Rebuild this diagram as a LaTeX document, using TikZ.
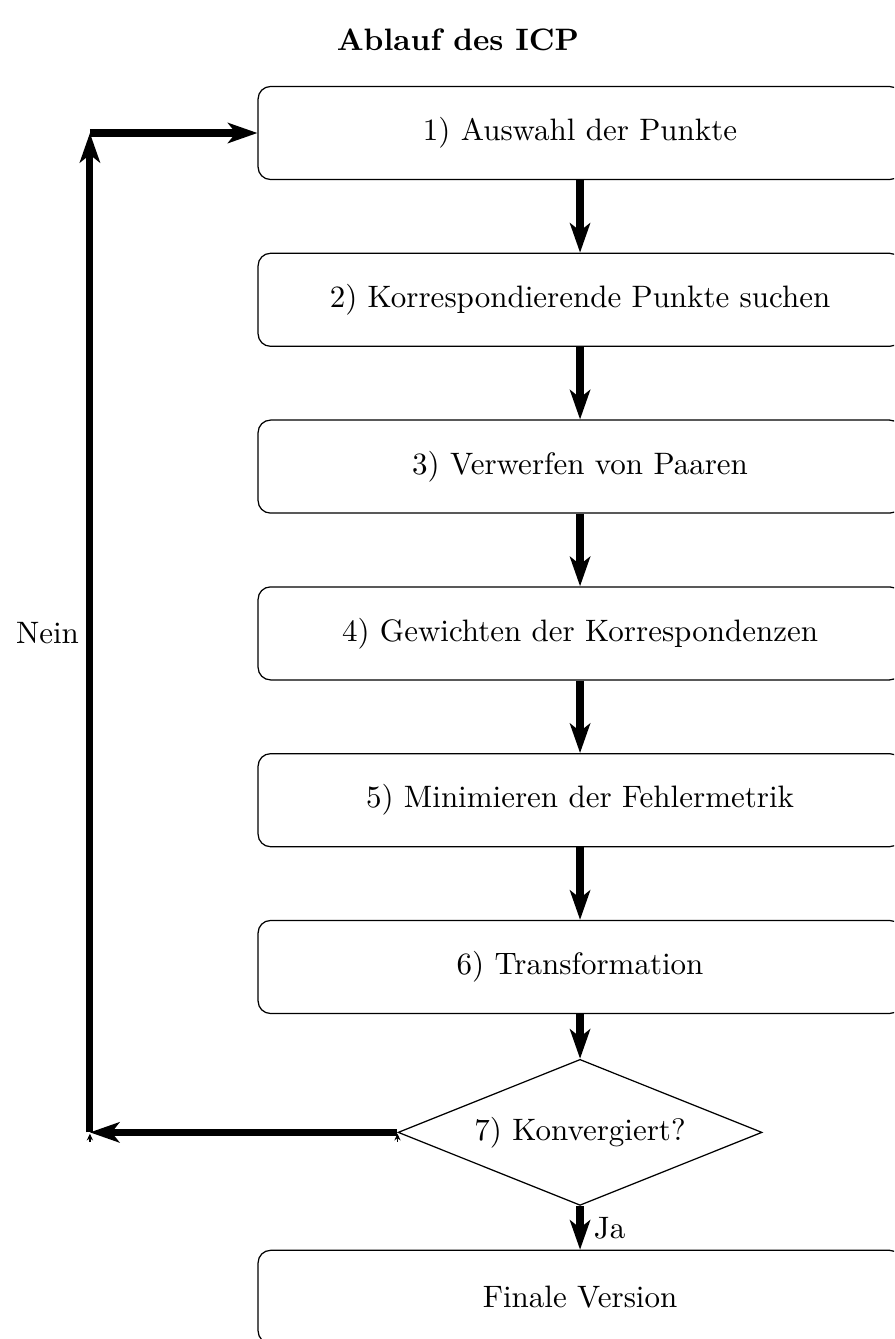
\documentclass[tikz,border=0pt]{standalone}
\usepackage{amsmath}
\usepackage{tikz}
\usetikzlibrary{arrows.meta,shapes.geometric,positioning}

\begin{document}
\begin{tikzpicture}[x=1pt, y=1pt,
  flow/.style={-{Stealth[length=9.5pt, width=6.5pt, inset=2.5pt]}, line width=2.3pt},
  tick/.style={-{Stealth[length=2.2pt, width=2pt]}, thin},
  stepbox/.style={draw, rounded corners=4pt, minimum width=207.7pt, minimum height=30pt},
  check/.style={draw, diamond, aspect=2.5, minimum width=117.4pt, minimum height=47.1pt, inner sep=0pt},
  node distance=23.4pt]
\useasboundingbox[clip] (0,0) rectangle (288.4,-431.9);
\node[font=\bfseries] (title) at (147.7,-12.9) {Ablauf des ICP};
\node[stepbox] (S1) at (187.1,-42.9) {1) Auswahl der Punkte};
\node[stepbox, below=of S1] (S2) {2) Korrespondierende Punkte suchen};
\node[stepbox, below=of S2] (S3) {3) Verwerfen von Paaren};
\node[stepbox, below=of S3] (S4) {4) Gewichten der Korrespondenzen};
\node[stepbox, below=of S4] (S5) {5) Minimieren der Fehlermetrik};
\node[stepbox, below=of S5] (S6) {6) Transformation};
\node[check, below=14.4pt of S6] (S7) {7) Konvergiert?};
\node[stepbox, below=14.1pt of S7] (S8) {Finale Version};
\coordinate (lowcorner) at (29,0 |- S7.west);
\coordinate (upcorner) at (29,0 |- S1.west);
\node[left=0pt of lowcorner |- S4] (nein) {Nein};
% main chain
\draw[flow] (S1) -- (S2);
\draw[flow] (S2) -- (S3);
\draw[flow] (S3) -- (S4);
\draw[flow] (S4) -- (S5);
\draw[flow] (S5) -- (S6);
\draw[flow] (S6) -- (S7);
\draw[flow] (S7) -- node[right] {Ja} (S8);
% back loop
\draw[flow] (S7.west) -- (lowcorner);
\draw[flow] (lowcorner) -- (upcorner);
\draw[flow] (upcorner) -- (S1.west);
\draw[tick] ([yshift=-3pt]lowcorner) -- ([yshift=-0.4pt]lowcorner);
\draw[tick] ([yshift=-3pt]S7.west) -- ([yshift=-0.4pt]S7.west);
\end{tikzpicture}
\end{document}
